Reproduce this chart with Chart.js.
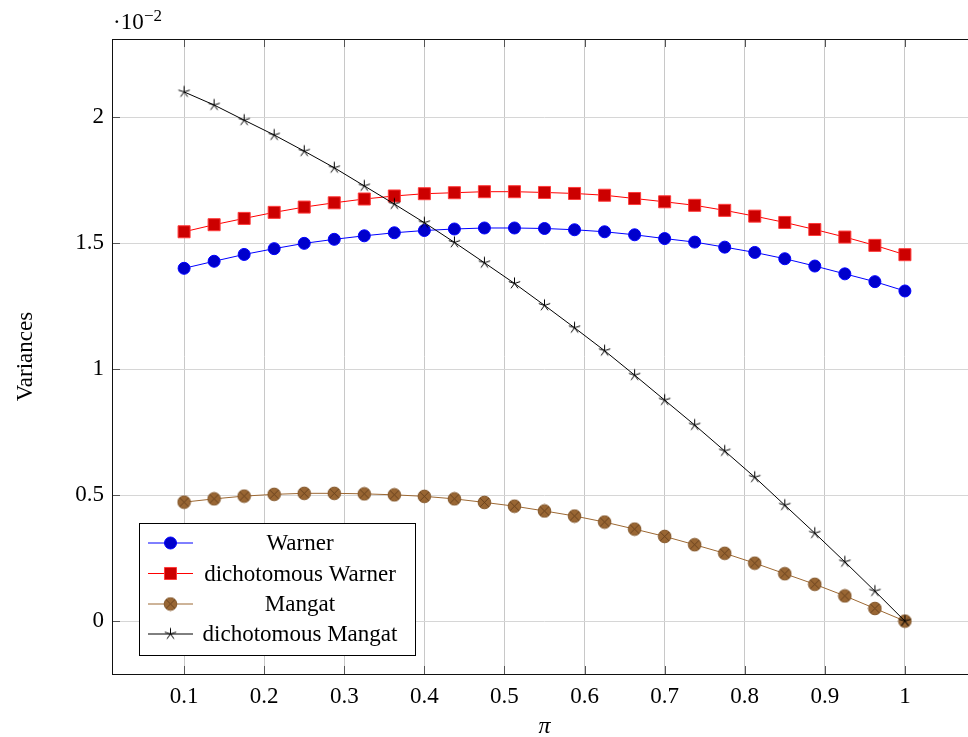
<!DOCTYPE html>
<html>
<head>
<meta charset="utf-8">
<script src="https://cdn.jsdelivr.net/npm/chart.js@4"></script>
<style>
  html, body { margin: 0; padding: 0; background: #fff; overflow: hidden; }
  #wrap { width: 1000px; height: 737px; position: relative; }
</style>
</head>
<body>
<div id="wrap"><canvas id="varChart"></canvas></div>
<script>
// valeurs de pi (axe x)
const piValues = [0.1, 0.1375, 0.175, 0.2125, 0.25, 0.2875, 0.325, 0.3625, 0.4, 0.4375,
    0.475, 0.5125, 0.55, 0.5875, 0.625, 0.6625, 0.7, 0.7375, 0.775, 0.8125,
    0.85, 0.8875, 0.925, 0.9625, 1.0];

// variances, en unites de 10^-2
const warner = [1.400, 1.428, 1.455, 1.478, 1.499, 1.515, 1.529, 1.541, 1.550, 1.556,
    1.560, 1.560, 1.558, 1.553, 1.545, 1.533, 1.518, 1.504, 1.484, 1.463,
    1.438, 1.409, 1.378, 1.347, 1.310];
const dichWarner = [1.545, 1.573, 1.598, 1.622, 1.643, 1.660, 1.675, 1.687, 1.696, 1.700,
    1.704, 1.704, 1.701, 1.697, 1.690, 1.677, 1.664, 1.650, 1.630, 1.607,
    1.582, 1.554, 1.524, 1.491, 1.454];
const mangat = [0.472, 0.485, 0.496, 0.503, 0.507, 0.507, 0.505, 0.501, 0.495, 0.485,
    0.471, 0.456, 0.437, 0.417, 0.393, 0.365, 0.336, 0.303, 0.269, 0.230,
    0.188, 0.146, 0.100, 0.050, 0.000];
const dichMangat = [2.100, 2.048, 1.988, 1.929, 1.865, 1.799, 1.727, 1.655, 1.581, 1.503,
    1.422, 1.340, 1.253, 1.164, 1.073, 0.976, 0.877, 0.778, 0.675, 0.571,
    0.460, 0.349, 0.235, 0.119, 0.000];

const seriesLabels = ['Warner', 'dichotomous Warner', 'Mangat', 'dichotomous Mangat'];
const xTicks = [0.1, 0.2, 0.3, 0.4, 0.5, 0.6, 0.7, 0.8, 0.9, 1];
const yTicks = [0, 0.5, 1, 1.5, 2];

const FONT = '"Liberation Serif", "DejaVu Serif", serif';

// marqueurs speciaux (cercle barre et etoile)
function otimesMark() {
    const c = document.createElement('canvas');
    c.width = 15; c.height = 15;
    const g = c.getContext('2d');
    g.beginPath();
    g.arc(7.5, 7.5, 6.3, 0, Math.PI * 2);
    g.fillStyle = '#996633';
    g.fill();
    g.strokeStyle = '#805326';
    g.lineWidth = 1;
    g.stroke();
    const d = 6.3 * Math.SQRT1_2;
    g.beginPath();
    g.moveTo(7.5 - d, 7.5 - d); g.lineTo(7.5 + d, 7.5 + d);
    g.moveTo(7.5 - d, 7.5 + d); g.lineTo(7.5 + d, 7.5 - d);
    g.strokeStyle = '#5e3a1a';
    g.lineWidth = 0.8;
    g.stroke();
    return c;
}
function starMark() {
    const c = document.createElement('canvas');
    c.width = 15; c.height = 15;
    const g = c.getContext('2d');
    g.beginPath();
    for (let k = 0; k < 5; k++) {
        const a = -Math.PI / 2 + k * 2 * Math.PI / 5;
        g.moveTo(7.5, 7.5);
        g.lineTo(7.5 + 6 * Math.cos(a), 7.5 + 6 * Math.sin(a));
    }
    g.strokeStyle = '#000';
    g.lineWidth = 1;
    g.stroke();
    return c;
}
const otimes = otimesMark();
const star = starMark();

function pts(ys) {
    return piValues.map((x, i) => ({ x: x, y: ys[i] }));
}

// cadre, graduations interieures, legende et facteur 10^-2
const decorPlugin = {
    id: 'decor',
    afterDraw(chart) {
        const ctx = chart.ctx;
        const a = chart.chartArea;
        const xs = chart.scales.x, ys = chart.scales.y;
        ctx.save();
        ctx.strokeStyle = '#555';
        ctx.lineWidth = 1;
        ctx.beginPath();
        xTicks.forEach(v => {
            const px = Math.round(xs.getPixelForValue(v)) + 0.5;
            ctx.moveTo(px, a.bottom); ctx.lineTo(px, a.bottom - 8);
            ctx.moveTo(px, a.top); ctx.lineTo(px, a.top + 8);
        });
        yTicks.forEach(v => {
            const py = Math.round(ys.getPixelForValue(v)) + 0.5;
            ctx.moveTo(a.left, py); ctx.lineTo(a.left + 8, py);
            ctx.moveTo(a.right, py); ctx.lineTo(a.right - 8, py);
        });
        ctx.stroke();
        ctx.strokeStyle = '#111';
        ctx.strokeRect(Math.round(a.left) + 0.5, Math.round(a.top) + 0.5,
            Math.round(a.right - a.left), Math.round(a.bottom - a.top));

        // legende
        const lx = 139.5, ly = 523.5, lw = 276, lh = 132;
        ctx.fillStyle = '#fff';
        ctx.fillRect(lx, ly, lw, lh);
        ctx.strokeStyle = '#000';
        ctx.strokeRect(lx, ly, lw, lh);
        const rows = [543, 573.5, 604, 634];
        ctx.font = '23px ' + FONT;
        ctx.textAlign = 'center';
        ctx.textBaseline = 'middle';
        chart.data.datasets.forEach((ds, i) => {
            const y = rows[i];
            ctx.strokeStyle = ds.borderColor;
            ctx.lineWidth = 1;
            ctx.beginPath();
            ctx.moveTo(148, y); ctx.lineTo(193, y);
            ctx.stroke();
            if (ds.pointStyle === 'circle' || ds.pointStyle === 'rect') {
                ctx.fillStyle = ds.pointBackgroundColor;
                ctx.strokeStyle = ds.pointBorderColor;
                ctx.beginPath();
                if (ds.pointStyle === 'circle') {
                    ctx.arc(170.5, y, ds.pointRadius, 0, Math.PI * 2);
                } else {
                    const s = ds.pointRadius * Math.SQRT1_2;
                    ctx.rect(170.5 - s, y - s, 2 * s, 2 * s);
                }
                ctx.fill();
                ctx.stroke();
            } else {
                Chart.helpers.drawPoint(ctx, {
                    pointStyle: ds.pointStyle, rotation: 0,
                    radius: ds.pointRadius, borderWidth: 1
                }, 170.5, y);
            }
            ctx.fillStyle = '#000';
            ctx.fillText(ds.label, 300, y + 1);
        });

        // facteur d'echelle
        ctx.textAlign = 'left';
        ctx.textBaseline = 'alphabetic';
        ctx.font = '23px ' + FONT;
        ctx.fillText('\u00b710', 113, 29);
        ctx.font = '17px ' + FONT;
        ctx.fillText('\u22122', 144, 21);

        // titres des axes
        ctx.font = 'italic 24px ' + FONT;
        ctx.textAlign = 'center';
        ctx.fillText('\u03c0', (a.left + a.right) / 2, 733);
        ctx.save();
        ctx.translate(32, (a.top + a.bottom) / 2);
        ctx.rotate(-Math.PI / 2);
        ctx.font = '23px ' + FONT;
        ctx.fillText('Variances', 0, 0);
        ctx.restore();
        ctx.restore();
    }
};

document.addEventListener('DOMContentLoaded', function() {
    const ctx = document.getElementById('varChart');
    new Chart(ctx, {
        type: 'line',
        data: {
            datasets: [{
                label: seriesLabels[0],
                data: pts(warner),
                borderColor: '#0000ff',
                pointBackgroundColor: '#0000cc',
                pointBorderColor: '#0000ff',
                pointStyle: 'circle',
                pointRadius: 6,
                pointBorderWidth: 1,
                borderWidth: 1,
                order: 4
            }, {
                label: seriesLabels[1],
                data: pts(dichWarner),
                borderColor: '#ff0000',
                pointBackgroundColor: '#cc0000',
                pointBorderColor: '#ff3b3b',
                pointStyle: 'rect',
                pointRadius: 8.5,
                pointBorderWidth: 1,
                borderWidth: 1,
                order: 3
            }, {
                label: seriesLabels[2],
                data: pts(mangat),
                borderColor: '#9c6833',
                pointStyle: otimes,
                pointRadius: 6,
                pointBorderWidth: 1,
                borderWidth: 1,
                order: 2
            }, {
                label: seriesLabels[3],
                data: pts(dichMangat),
                borderColor: '#000000',
                pointStyle: star,
                pointRadius: 6,
                pointBorderWidth: 1,
                borderWidth: 1,
                order: 1
            }]
        },
        options: {
            responsive: true,
            maintainAspectRatio: false,
            animation: false,
            layout: { padding: { top: 39, right: 23, left: 0, bottom: 0 } },
            plugins: {
                legend: { display: false },
                tooltip: { enabled: false }
            },
            scales: {
                x: {
                    type: 'linear',
                    min: 0.01,
                    max: 1.09,
                    afterBuildTicks: s => { s.ticks = xTicks.map(v => ({ value: v })); },
                    afterFit: s => { s.height = 63; },
                    border: { display: false },
                    grid: { color: '#c8c8c8', drawTicks: false },
                    ticks: {
                        padding: 9,
                        color: '#000',
                        font: { family: FONT, size: 23 },
                        maxRotation: 0,
                        callback: v => String(Math.round(v * 10) / 10)
                    }
                },
                y: {
                    min: -0.21,
                    max: 2.31,
                    afterBuildTicks: s => { s.ticks = yTicks.map(v => ({ value: v })); },
                    afterFit: s => { s.width = 112; },
                    border: { display: false },
                    grid: { color: '#d6d6d6', drawTicks: false },
                    ticks: {
                        padding: 8,
                        color: '#000',
                        font: { family: FONT, size: 23 },
                        callback: v => String(v)
                    }
                }
            }
        },
        plugins: [decorPlugin]
    });
});
</script>
</body>
</html>
